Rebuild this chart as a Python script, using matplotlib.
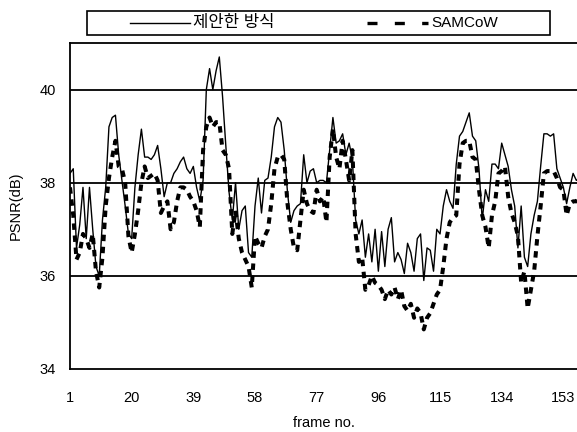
import matplotlib
matplotlib.use("Agg")
import matplotlib.pyplot as plt
import numpy as np
from matplotlib.lines import Line2D
from matplotlib.patches import Rectangle

# 프레임별 PSNR
frames = np.arange(1, 159)

proposed = [
    38.2, 38.3, 36.6, 37.1, 37.9, 36.8, 37.9, 37.0, 36.2, 36.0,
    37.2, 37.9, 39.2, 39.4, 39.45, 38.6, 38.05, 37.5, 36.9, 36.8,
    37.9, 38.6, 39.15, 38.55, 38.55, 38.5, 38.6, 38.8, 38.3, 37.7,
    38.0, 38.0, 38.2, 38.3, 38.45, 38.55, 38.3, 38.2, 38.35, 37.9,
    37.6, 38.05, 40.0, 40.45, 40.0, 40.4, 40.7, 39.85, 38.8, 37.8,
    37.2, 38.0, 37.0, 37.4, 37.5, 36.5, 36.4, 37.5, 38.1, 37.35,
    38.05, 38.1, 38.55, 39.2, 39.4, 39.3, 38.7, 37.8, 37.15, 37.4,
    37.5, 37.55, 38.6, 38.0, 38.25, 38.3, 38.0, 38.05, 38.05, 38.0,
    38.7, 39.4, 38.85, 38.9, 39.05, 38.6, 38.85, 38.5, 37.2, 36.9,
    37.2, 36.4, 36.9, 36.3, 37.0, 36.1, 36.95, 36.2, 37.0, 37.25,
    36.3, 36.5, 36.35, 36.05, 36.7, 36.5, 36.1, 36.8, 36.9, 35.9,
    36.6, 36.55, 36.1, 37.0, 36.9, 37.5, 37.85, 37.6, 37.45, 38.4,
    39.0, 39.1, 39.3, 39.5, 39.0, 38.9, 38.3, 37.2, 37.85, 37.6,
    38.4, 38.4, 38.3, 38.85, 38.6, 38.35, 37.85, 37.5, 36.6, 37.5,
    36.4, 36.2, 36.9, 37.3, 37.6, 38.35, 39.05, 39.05, 39.0, 39.05,
    38.3, 38.1, 37.9, 37.55, 37.9, 38.2, 38.05, 38.1,
]

samcow = [
    37.9, 37.3, 36.35, 36.5, 36.9, 36.8, 36.6, 36.9, 36.1, 35.75,
    36.4, 37.5, 38.1, 38.55, 38.9, 38.35, 38.3, 38.0, 36.85, 36.5,
    36.9, 37.4, 38.0, 38.35, 38.1, 38.15, 38.2, 38.05, 37.35, 37.5,
    37.6, 37.0, 37.15, 37.6, 37.9, 37.9, 37.85, 37.7, 37.6, 37.4,
    37.05, 38.7, 39.2, 39.4, 39.2, 39.3, 39.3, 38.7, 38.6, 38.3,
    36.9, 37.4, 36.8, 36.5, 36.35, 36.2, 35.75, 36.85, 36.7, 36.6,
    36.85, 37.0, 37.55, 38.3, 38.55, 38.6, 38.5, 37.55, 37.0, 36.6,
    36.55, 37.2, 37.85, 37.55, 37.4, 37.35, 37.85, 37.6, 37.7, 37.15,
    38.55, 39.15, 38.55, 38.3, 38.9, 38.5, 38.05, 38.7, 36.9, 36.3,
    36.4, 35.7, 35.8, 36.0, 35.85, 35.8, 35.7, 35.5, 35.7, 35.6,
    35.75, 35.5, 35.7, 35.35, 35.25, 35.4, 35.1, 35.3, 35.2, 34.85,
    35.1, 35.2, 35.4, 35.6, 35.7, 36.2, 36.8, 37.15, 37.25, 37.3,
    38.4, 38.85, 38.9, 38.9, 38.55, 38.5, 37.85, 37.3, 37.05, 36.6,
    37.3, 37.6, 38.2, 38.25, 38.35, 37.7, 37.35, 37.15, 36.85, 35.85,
    36.1, 35.3, 35.7, 36.1, 36.85, 37.5, 38.2, 38.25, 38.25, 38.25,
    38.1, 37.9, 37.85, 37.3, 37.55, 37.6, 37.6, 37.7,
]

xticks = [1, 20, 39, 58, 77, 96, 115, 134, 153]
yticks = [34, 36, 38, 40]
grid_levels = [36, 38, 40]

plt.rcParams["font.family"] = ["Liberation Sans", "Noto Sans CJK KR", "DejaVu Sans"]

W, H = 577, 432
fig = plt.figure(figsize=(W / 100, H / 100), dpi=100)
ax = fig.add_axes([70 / W, 63 / H, 1 - 70 / W, 326 / H])

solid_style = dict(color="black", lw=1.0)
dash_style = dict(color="black", lw=2.9, linestyle=(0, (1.6, 1.4)),
                  dash_capstyle="butt")

for lv in grid_levels:
    ax.axhline(lv, color="black", lw=1.3, zorder=1)

ax.plot(frames, proposed, zorder=3, **solid_style)
ax.plot(frames, samcow, zorder=2, **dash_style)

ax.set_xlim(1, 157.2)
ax.set_ylim(34, 41)
ax.set_xticks(xticks)
ax.set_yticks(yticks)
ax.tick_params(length=0, labelsize=10.5)
ax.tick_params(axis="x", pad=16)
ax.tick_params(axis="y", pad=10)
ax.spines["right"].set_visible(False)
for s in ["left", "bottom", "top"]:
    ax.spines[s].set_linewidth(1.3)

ax.set_xlabel("frame no.", fontsize=10.5, labelpad=8)
ax.set_ylabel("PSNR(dB)", fontsize=10.5, labelpad=12)

# 범례 (엑셀식 박스)
fig.patches.append(Rectangle((87 / W, 1 - 35 / H), 463 / W, 24 / H,
                             transform=fig.transFigure, fill=False,
                             edgecolor="black", lw=1.2))
ly = 1 - 23 / H
fig.lines.append(Line2D([130 / W, 190 / W], [ly, ly],
                        transform=fig.transFigure, **solid_style))
fig.text(193 / W, ly, "제안한 방식", fontsize=12, va="center", ha="left")
fig.lines.append(Line2D([367 / W, 428 / W], [ly, ly],
                        transform=fig.transFigure, color="black", lw=2.4,
                        linestyle=(0, (3.0, 5.2)), dash_capstyle="butt"))
fig.text(431 / W, ly, "SAMCoW", fontsize=11, va="center", ha="left")

fig.savefig("out.png", dpi=100)
